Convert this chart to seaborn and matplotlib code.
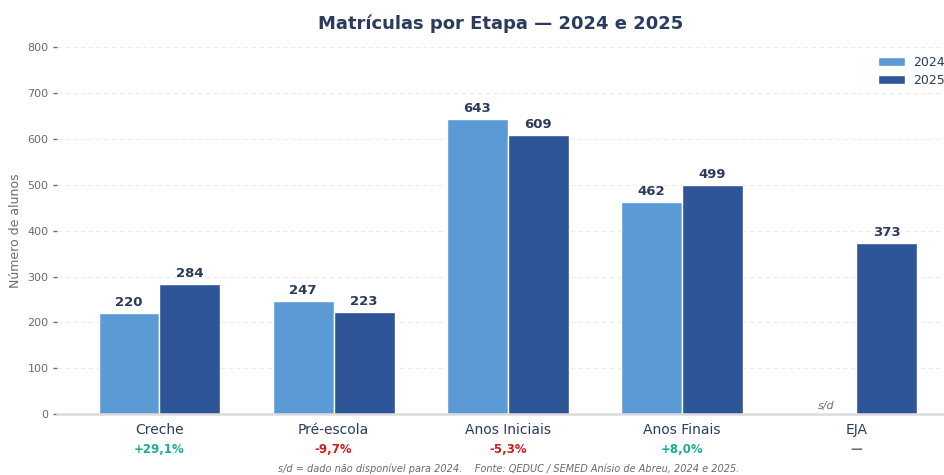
import numpy as np
import pandas as pd
import matplotlib
matplotlib.use("Agg")
import matplotlib.pyplot as plt
import matplotlib.transforms as mtransforms
from matplotlib.patches import Patch
import seaborn as sns

sns.set_style("white")
plt.rcParams["font.family"] = ["DejaVu Sans"]

## dados
etapas = ["Creche", "Pré-escola", "Anos Iniciais", "Anos Finais", "EJA"]
mat_2024 = [220, 247, 643, 462, np.nan]
mat_2025 = [284, 223, 609, 499, 373]
variacao = ["+29,1%", "-9,7%", "-5,3%", "+8,0%", "—"]
anos = ["2024", "2025"]

cor_2024 = "#5b9bd5"
cor_2025 = "#2e5597"
navy = "#2b3b5e"
cinza = "#6b6b6b"
verde = "#1aae8f"
vermelho = "#cc1f1f"

df = pd.DataFrame({
    "etapa": etapas * 2,
    "ano": [anos[0]] * len(etapas) + [anos[1]] * len(etapas),
    "valor": mat_2024 + mat_2025,
})

fig = plt.figure(figsize=(9.45, 4.75), dpi=100)
ax = fig.add_axes([0.060, 0.128, 0.940, 0.773])

sns.barplot(
    data=df, x="etapa", y="valor", hue="ano",
    palette=[cor_2024, cor_2025], width=0.7, dodge=True, saturation=1,
    edgecolor="white", linewidth=1, legend=False, ax=ax, zorder=2,
)

# rotulos de valor
for cont in ax.containers:
    labels = ["" if np.isnan(v) else f"{int(v)}" for v in cont.datavalues]
    ax.bar_label(cont, labels=labels, padding=3, fontsize=9.5,
                 fontweight="bold", color=navy)

# s/d para EJA 2024
x_eja = etapas.index("EJA") - 0.175
ax.text(x_eja, 8, "s/d", ha="center", va="bottom", fontsize=8,
        style="italic", color=cinza)

ax.set_xlim(-0.59, 4.51)
ax.set_ylim(0, 800)
ax.set_yticks(range(0, 801, 100))
ax.tick_params(axis="y", length=3, width=1, color=cinza, labelsize=8,
               labelcolor=cinza, pad=3, left=True)
ax.tick_params(axis="x", length=0, labelsize=10, labelcolor=navy, pad=6)
ax.set_xticks(range(len(etapas)))
ax.set_xticklabels(etapas)
ax.set_xlabel("")
ax.set_ylabel("Número de alunos", fontsize=9, color=cinza, labelpad=4)

ax.yaxis.grid(True, linestyle=(0, (4, 3)), color="#ececec", linewidth=0.8)
ax.set_axisbelow(True)
for s in ["top", "right", "left"]:
    ax.spines[s].set_visible(False)
ax.spines["bottom"].set_color("#dcdcdc")
ax.spines["bottom"].set_linewidth(1.8)

# variacao abaixo das etapas
trans = mtransforms.blended_transform_factory(ax.transData, ax.transAxes)
for i, v in enumerate(variacao):
    if v.startswith("+"):
        c = verde
    elif v.startswith("-"):
        c = vermelho
    else:
        c = cinza
    ax.text(i, -0.095, v, transform=trans, ha="center", va="center",
            fontsize=8.5, fontweight="bold", color=c)

ax.set_title("Matrículas por Etapa — 2024 e 2025", fontsize=13,
             fontweight="bold", color=navy, pad=13)

handles = [Patch(facecolor=cor_2024, label=anos[0]),
           Patch(facecolor=cor_2025, label=anos[1])]
leg = fig.legend(handles=handles, loc="upper left",
                 bbox_to_anchor=(0.929, 0.883), frameon=False, fontsize=9,
                 handlelength=2.2, handleheight=0.7, labelspacing=0.45,
                 handletextpad=0.6, borderaxespad=0, borderpad=0)
for t in leg.get_texts():
    t.set_color(navy)

fig.text(0.538, 0.013, "s/d = dado não disponível para 2024.    Fonte: QEDUC / SEMED Anísio de Abreu, 2024 e 2025.",
         ha="center", va="center", fontsize=7, style="italic", color=cinza)

fig.savefig("out.png", dpi=100)
plt.close()
